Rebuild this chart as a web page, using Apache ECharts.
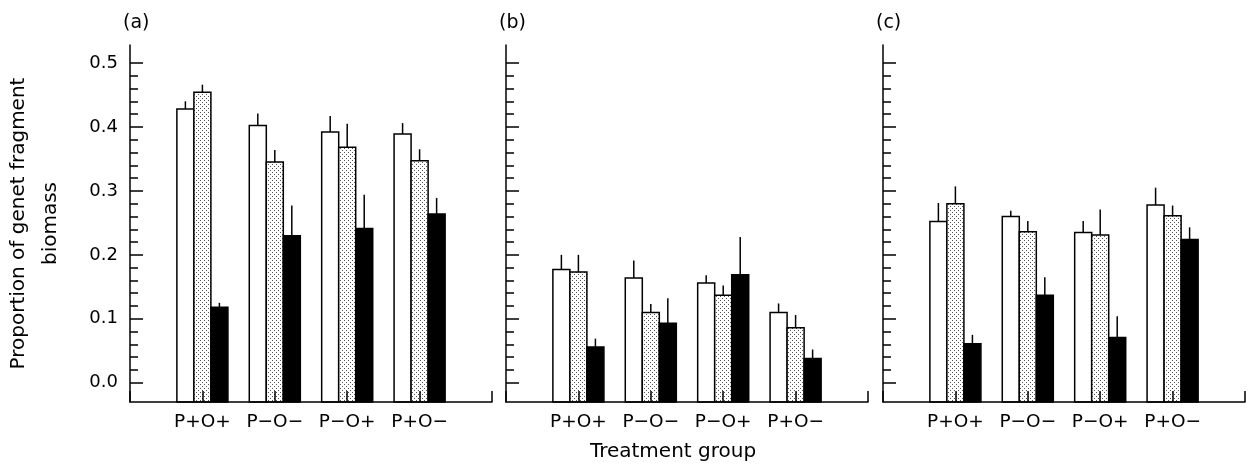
<!DOCTYPE html>
<html>
<head>
<meta charset="utf-8">
<script src="https://cdn.jsdelivr.net/npm/echarts@6/dist/echarts.min.js"></script>
<style>
  html, body { margin: 0; padding: 0; background: #fff; }
  #chart { width: 1249px; height: 469px; }
</style>
</head>
<body>
<div id="chart"></div>
<script>
// ---------- data ----------
const categories = ['P+O+', 'P\u2212O\u2212', 'P\u2212O+', 'P+O\u2212'];
const panelLabels = ['(a)', '(b)', '(c)'];
const yTickValues = [0, 0.1, 0.2, 0.3, 0.4, 0.5];
const yMinorTickValues = [0.02, 0.04, 0.06, 0.08, 0.12, 0.14, 0.16, 0.18, 0.22, 0.24, 0.26, 0.28,
                          0.32, 0.34, 0.36, 0.38, 0.42, 0.44, 0.46, 0.48];
const yAxisTitle = 'Proportion of genet fragment\nbiomass';
const xAxisTitle = 'Treatment group';

// panel (a)
const aOpen = [0.428, 0.402, 0.392, 0.389];
const aOpenErr = [0.012, 0.019, 0.025, 0.017];
const aDotted = [0.454, 0.345, 0.368, 0.347];
const aDottedErr = [0.012, 0.019, 0.037, 0.018];
const aSolid = [0.118, 0.230, 0.241, 0.264];
const aSolidErr = [0.007, 0.047, 0.053, 0.025];
// panel (b)
const bOpen = [0.177, 0.164, 0.156, 0.110];
const bOpenErr = [0.023, 0.027, 0.012, 0.014];
const bDotted = [0.173, 0.110, 0.137, 0.086];
const bDottedErr = [0.027, 0.013, 0.015, 0.020];
const bSolid = [0.056, 0.093, 0.169, 0.038];
const bSolidErr = [0.013, 0.039, 0.059, 0.014];
// panel (c)
const cOpen = [0.252, 0.260, 0.235, 0.278];
const cOpenErr = [0.029, 0.009, 0.018, 0.027];
const cDotted = [0.280, 0.236, 0.231, 0.261];
const cDottedErr = [0.027, 0.017, 0.040, 0.016];
const cSolid = [0.061, 0.137, 0.071, 0.224];
const cSolidErr = [0.014, 0.028, 0.033, 0.019];

const Y_MIN = -0.03;
const Y_MAX = 0.528;
const FONT = 'DejaVu Sans';

// ---------- dotted fill pattern ----------
const pat = document.createElement('canvas');
pat.width = 4; pat.height = 4;
const pc = pat.getContext('2d');
pc.fillStyle = '#fff'; pc.fillRect(0, 0, 4, 4);
pc.fillStyle = '#555';
pc.fillRect(0, 0, 1, 1);
pc.fillRect(2, 2, 1, 1);
const dottedFill = { image: pat, repeat: 'repeat' };

const fills = ['#ffffff', dottedFill, '#000000'];

function renderBar(params, api) {
  const cat = api.value(0);
  const val = api.value(1);
  const err = api.value(2);
  const k = api.value(3);
  const band = api.size([1, 0])[0];
  const w = band * 0.235;
  const top = api.coord([cat, val]);
  const base = api.coord([cat, Y_MIN]);
  const eTop = api.coord([cat, val + err]);
  const cx = top[0] + (k - 1) * w;
  return {
    type: 'group',
    children: [
      { type: 'rect', shape: { x: cx - w / 2, y: top[1], width: w, height: base[1] - top[1] },
        style: { fill: fills[k], stroke: '#000', lineWidth: 1.5 } },
      { type: 'line', shape: { x1: cx, y1: top[1], x2: cx, y2: eTop[1] },
        style: { stroke: '#000', lineWidth: 1.5 } }
    ]
  };
}

function buildData(vals, errs, k) {
  return vals.map((v, i) => [i + 1, v, errs[i], k]);
}

const panels = [
  [[aOpen, aOpenErr], [aDotted, aDottedErr], [aSolid, aSolidErr]],
  [[bOpen, bOpenErr], [bDotted, bDottedErr], [bSolid, bSolidErr]],
  [[cOpen, cOpenErr], [cDotted, cDottedErr], [cSolid, cSolidErr]]
];

const gridLefts = [130, 506, 883];
const grids = gridLefts.map(l => ({ left: l, top: 45, width: 362, height: 357 }));

const xAxes = [], yAxes = [], series = [], graphics = [];
panels.forEach((p, g) => {
  xAxes.push({
    gridIndex: g, type: 'category', data: [''].concat(categories, ['']),
    boundaryGap: false, z: 10, position: 'bottom',
    axisLine: { onZero: false, lineStyle: { color: '#000', width: 1.5 } },
    axisTick: { inside: true, length: 11, interval: 0, lineStyle: { color: '#000', width: 1.5 } },
    axisLabel: { interval: 0, color: '#000', fontFamily: FONT, fontSize: 18.5, margin: 11 },
    splitLine: { show: false }
  });
  yAxes.push({
    gridIndex: g, type: 'value', min: Y_MIN, max: Y_MAX, z: 10, position: 'left',
    name: g === 0 ? yAxisTitle : '',
    nameLocation: 'middle', nameRotate: 90, nameGap: 63,
    nameTextStyle: { color: '#000', fontFamily: FONT, fontSize: 20, lineHeight: 32 },
    axisLine: { show: true, onZero: false, lineStyle: { color: '#000', width: 1.5 } },
    axisTick: { show: true, inside: true, length: 13, customValues: yTickValues,
                lineStyle: { color: '#000', width: 1.5 } },
    axisLabel: { show: g === 0, customValues: yTickValues, formatter: v => v.toFixed(1),
                 color: '#000', fontFamily: FONT, fontSize: 18, margin: 12 },
    splitLine: { show: false }
  });
  yAxes.push({
    gridIndex: g, type: 'value', min: Y_MIN, max: Y_MAX, z: 10, position: 'left', offset: 0,
    axisLine: { show: false, onZero: false },
    axisTick: { show: true, inside: true, length: 8, customValues: yMinorTickValues,
                lineStyle: { color: '#000', width: 1.5 } },
    axisLabel: { show: false },
    splitLine: { show: false }
  });
  p.forEach((s, k) => {
    series.push({
      type: 'custom', xAxisIndex: g, yAxisIndex: g * 2,
      renderItem: renderBar, data: buildData(s[0], s[1], k), z: 2
    });
  });
  graphics.push({
    type: 'text', left: gridLefts[g] - 7, top: 14,
    style: { text: panelLabels[g], fill: '#000', font: '19px "' + FONT + '"' }
  });
});

graphics.push({
  type: 'text', x: 673, y: 452,
  style: { text: xAxisTitle, fill: '#000', font: '20px "' + FONT + '"',
           textAlign: 'center', textVerticalAlign: 'middle' }
});

const chart = echarts.init(document.getElementById('chart'), null, { renderer: 'canvas' });
chart.setOption({
  animation: false,
  backgroundColor: '#fff',
  grid: grids,
  xAxis: xAxes,
  yAxis: yAxes,
  series: series,
  graphic: graphics
});
</script>
</body>
</html>
